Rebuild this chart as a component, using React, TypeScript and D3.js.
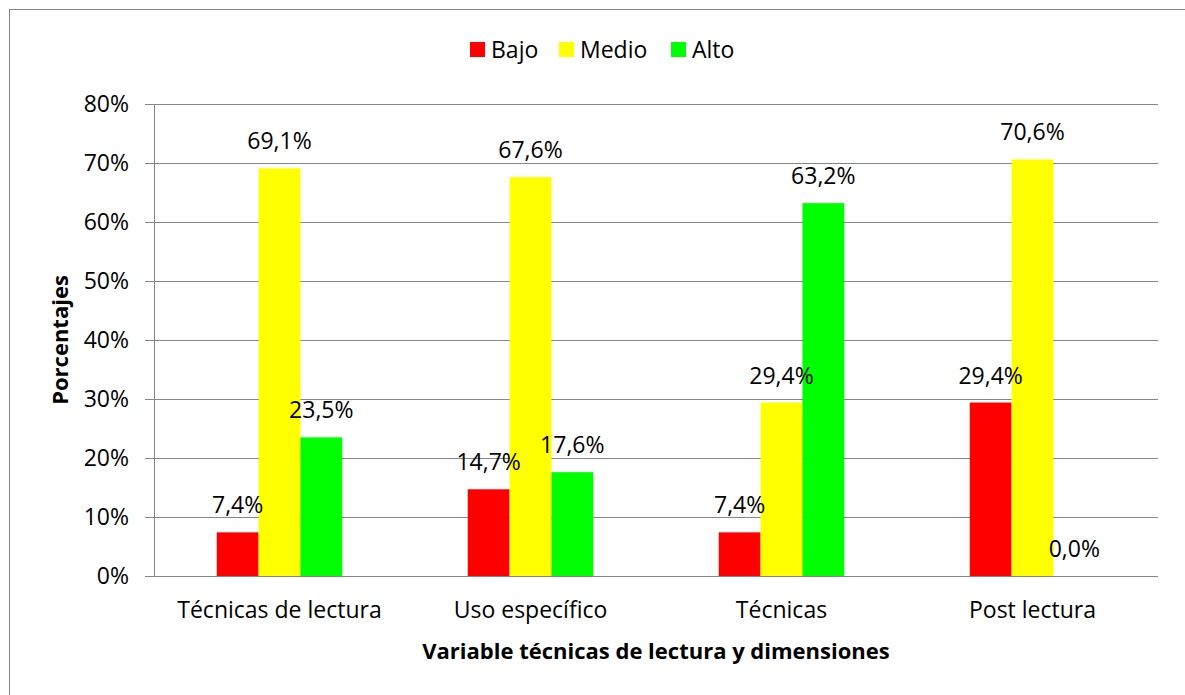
import React from 'react';
import * as d3 from 'd3';

// chart values
const categories = ['Técnicas de lectura', 'Uso específico', 'Técnicas', 'Post lectura'];
const seriesNames = ['Bajo', 'Medio', 'Alto'];
const seriesColors = ['#ff0000', '#ffff00', '#00ff00'];
const bajo = [7.4, 14.7, 7.4, 29.4];
const medio = [69.1, 67.6, 29.4, 70.6];
const alto = [23.5, 17.6, 63.2, 0.0];
const yTicks = [0, 10, 20, 30, 40, 50, 60, 70, 80];

const W = 1185;
const H = 695;
const FONT = '"Open Sans", sans-serif';

const margin = { left: 154, right: 27, top: 104, bottom: 119 };

const fmt = (v: number) => v.toFixed(1).replace('.', ',') + '%';

export default function App() {
  const series = [bajo, medio, alto];

  const x = d3.scaleBand<string>()
    .domain(categories)
    .range([margin.left, W - margin.right])
    .paddingInner(0.5)
    .paddingOuter(0.25);

  const xs = d3.scaleBand<string>()
    .domain(seriesNames)
    .range([0, x.bandwidth()]);

  const y = d3.scaleLinear()
    .domain([0, 80])
    .range([H - margin.bottom, margin.top]);

  const plotLeft = margin.left;
  const plotRight = W - margin.right;
  const plotBottom = y(0);
  const midX = (plotLeft + plotRight) / 2;

  // legend layout
  const legendItems = [
    { name: 'Bajo', x: 470 },
    { name: 'Medio', x: 559 },
    { name: 'Alto', x: 671 },
  ];

  return (
    <svg
      width={W}
      height={H}
      style={{ position: 'absolute', left: 0, top: 0, background: '#fff' }}
      fontFamily={FONT}
    >
      {/* outer chart border */}
      <rect x={9.5} y={9.5} width={W + 20} height={H + 20} fill="#fff" stroke="#868686" strokeWidth={1} />

      {/* gridlines + y ticks */}
      {yTicks.map((t) => (
        <g key={t}>
          <line
            x1={plotLeft - 9}
            x2={plotRight}
            y1={Math.round(y(t)) + 0.5}
            y2={Math.round(y(t)) + 0.5}
            stroke="#868686"
            strokeWidth={1}
          />
          <text
            x={plotLeft - 25}
            y={y(t)}
            dy="0.36em"
            textAnchor="end"
            fontSize={23}
            fill="#000"
          >
            {t}%
          </text>
        </g>
      ))}

      {/* y axis line */}
      <line x1={plotLeft + 0.5} x2={plotLeft + 0.5} y1={y(80)} y2={plotBottom} stroke="#868686" />

      {/* bars */}
      {categories.map((c, ci) => (
        <g key={c} transform={`translate(${x(c)},0)`}>
          {seriesNames.map((s, si) => {
            const v = series[si][ci];
            return (
              <rect
                key={s}
                x={xs(s)}
                y={y(v)}
                width={xs.bandwidth()}
                height={plotBottom - y(v)}
                fill={seriesColors[si]}
              />
            );
          })}
        </g>
      ))}

      {/* value labels */}
      {categories.map((c, ci) =>
        seriesNames.map((s, si) => {
          const v = series[si][ci];
          return (
            <text
              key={c + s}
              x={(x(c) as number) + (xs(s) as number) + xs.bandwidth() / 2}
              y={y(v) - 19}
              textAnchor="middle"
              fontSize={23}
              fill="#000"
            >
              {fmt(v)}
            </text>
          );
        })
      )}

      {/* category labels */}
      {categories.map((c) => (
        <text
          key={c}
          x={(x(c) as number) + x.bandwidth() / 2}
          y={plotBottom + 42}
          textAnchor="middle"
          fontSize={23}
          fill="#000"
        >
          {c}
        </text>
      ))}

      {/* axis titles */}
      <text x={midX} y={659} textAnchor="middle" fontSize={22} fontWeight="bold" fill="#000">
        Variable técnicas de lectura y dimensiones
      </text>
      <text
        transform={`translate(68,${(y(80) + plotBottom) / 2}) rotate(-90)`}
        textAnchor="middle"
        fontSize={22}
        fontWeight="bold"
        fill="#000"
      >
        Porcentajes
      </text>

      {/* legend */}
      {legendItems.map((it, i) => (
        <g key={it.name}>
          <rect x={it.x} y={42} width={15} height={15} fill={seriesColors[i]} />
          <text x={it.x + 21} y={50} dy="0.36em" fontSize={23} fill="#000">
            {it.name}
          </text>
        </g>
      ))}
    </svg>
  );
}
